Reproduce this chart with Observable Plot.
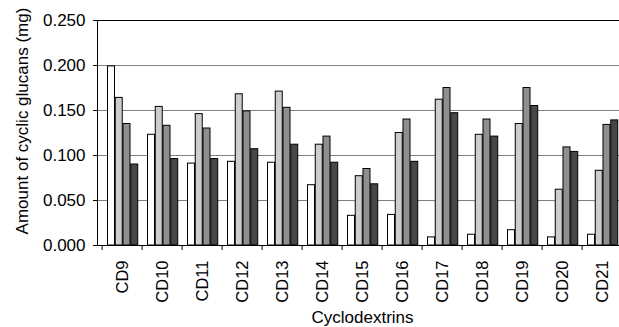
<!DOCTYPE html>
<html>
<head>
<meta charset="utf-8">
<script src="https://cdn.jsdelivr.net/npm/d3@7"></script>
<script src="https://cdn.jsdelivr.net/npm/@observablehq/plot@0.6"></script>
<style>
  html, body { margin: 0; padding: 0; overflow: hidden; background: #fff; width: 619px; height: 327px; }
</style>
</head>
<body>
<div id="chart"></div>
<script>
const categories = ["CD9","CD10","CD11","CD12","CD13","CD14","CD15","CD16","CD17","CD18","CD19","CD20","CD21"];
const seriesNames = ["A","B","C","D"];
const seriesColors = ["#ffffff","#cdcdcd","#8f8f8f","#474747"];
const valuesA = [0.199,0.123,0.091,0.093,0.092,0.067,0.033,0.034,0.009,0.012,0.017,0.009,0.012];
const valuesB = [0.164,0.154,0.146,0.168,0.171,0.112,0.077,0.125,0.162,0.123,0.135,0.062,0.083];
const valuesC = [0.135,0.133,0.130,0.149,0.153,0.121,0.085,0.140,0.175,0.140,0.175,0.109,0.134];
const valuesD = [0.090,0.096,0.096,0.107,0.112,0.092,0.068,0.093,0.147,0.121,0.155,0.104,0.139];
const yTicks = [0, 0.05, 0.10, 0.15, 0.20, 0.25];
const gridTicks = [0.05, 0.10, 0.15, 0.20];
const xTitle = "Cyclodextrins";
const yTitle = "Amount of cyclic glucans (mg)";

const allValues = [valuesA, valuesB, valuesC, valuesD];

const W = 628, ML = 97, MR = 1, MT = 20, MB = 82, H = 327;
const BAND = (W - ML - MR) / categories.length;
const GROUP_OFFSET = 5.5;
const BAR_W = 7.75;

const barMarks = allValues.map((vals, i) => {
  const data = categories.map((c, j) => ({cat: c, value: vals[j]}));
  return Plot.barY(data, {
    x: "cat", y: "value",
    fill: seriesColors[i], stroke: "#000", strokeWidth: 1,
    insetLeft: GROUP_OFFSET + i * BAR_W,
    insetRight: BAND - GROUP_OFFSET - (i + 1) * BAR_W
  });
});

const chart = Plot.plot({
  width: W, height: H,
  marginLeft: ML, marginRight: MR, marginTop: MT, marginBottom: MB,
  style: "max-width:none; background:#fff; font-family:'Liberation Sans', Arial, sans-serif; font-size:17px; color:#000; overflow:hidden;",
  x: {domain: categories, padding: 0, axis: null},
  y: {domain: [0, 0.25], axis: null},
  marks: [
    Plot.gridY(gridTicks, {stroke: "#808080", strokeOpacity: 1}),
    ...barMarks,
    Plot.ruleY([0.25], {stroke: "#000"}),
    Plot.ruleY([0], {stroke: "#000"}),
    Plot.frame({anchor: "left", stroke: "#000"}),
    Plot.axisY(yTicks, {
      tickFormat: d3.format(".3f"), tickSize: 4, tickPadding: 8, fontSize: 17, label: null
    }),
    Plot.axisX({tickSize: 5, tickFormat: () => "", dx: -BAND / 2, label: null}),
    Plot.axisX({tickSize: 0, tickRotate: -90, tickPadding: 15, fontSize: 16.5, label: null}),
    Plot.text([yTitle], {frameAnchor: "left", textAnchor: "middle", lineAnchor: "middle", rotate: -90, dx: -75, dy: -12, fontSize: 17, fill: "#000"}),
    Plot.text([xTitle], {frameAnchor: "bottom", textAnchor: "middle", lineAnchor: "middle", dy: 72, fontSize: 17, fill: "#000"})
  ]
});
document.getElementById("chart").appendChild(chart);
</script>
</body>
</html>
